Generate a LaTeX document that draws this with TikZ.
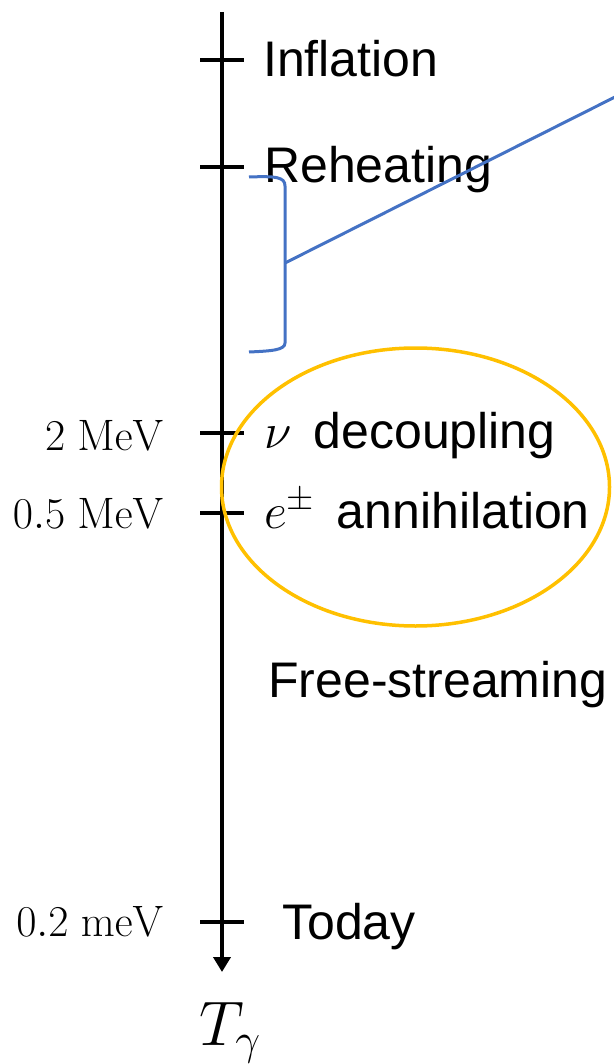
\documentclass[tikz,border=0pt]{standalone}
\usepackage{fix-cm}
\usepackage[no-math]{fontspec}
\setmainfont{Liberation Sans}
\usetikzlibrary{arrows.meta, positioning}
\definecolor{bracketblue}{RGB}{68,114,196}
\definecolor{ringyellow}{RGB}{255,192,0}

\begin{document}
\begin{tikzpicture}[
    x=1pt, y=-1pt,
    axis/.style={line width=4.8pt, -{Triangle[length=15pt, width=17pt]}},
    tickmark/.style={line width=4.8pt},
    epoch/.style={anchor=base west, inner sep=0pt, font=\fontsize{50}{60}\selectfont},
    temp/.style={anchor=base east, inner sep=0pt, font=\fontsize{44}{52}\selectfont},
    bracket/.style={draw=bracketblue, line width=3pt},
    ring/.style={draw=ringyellow, line width=3.5pt}
]
\useasboundingbox (0,0) rectangle (613,1064);

% time axis
\coordinate (top) at (222,12);
\coordinate (bottom) at (222,972);
\draw[axis] (top) -- (bottom);

% ticks
\coordinate (t1) at (222,60);
\coordinate (t2) at (222,167);
\coordinate (t3) at (222,433);
\coordinate (t4) at (222,513);
\coordinate (t5) at (222,922);
\foreach \t in {t1,t2,t3,t4,t5}
    \draw[tickmark] ([xshift=-22pt]\t) -- ([xshift=22pt]\t);

% epochs
\node[epoch] (inflation) at (263,77) {Inflation};
\node[epoch] (reheating) at (264,183) {Reheating};
\node[epoch] (decoupling) at (264,448) {$\nu$ \,decoupling};
\node[epoch] (annihilation) at (264,528) {$e^{\pm}$\, annihilation};
\node[epoch] (streaming) at (268,697) {Free-streaming};
\node[epoch] (today) at (282,939) {Today};

% temperatures
\node[temp] (twomev) at (164,450) {$2\ \mathrm{MeV}$};
\node[temp] (halfmev) at (164,528) {$0.5\ \mathrm{MeV}$};
\node[temp] (nowmev) at (164,936) {$0.2\ \mathrm{meV}$};

\node[anchor=base, inner sep=0pt, font=\fontsize{63}{70}\selectfont] (tgamma) at (230,1045) {$T_\gamma$};

% reheating bracket
\coordinate (bmid) at (285,263);
\coordinate (bout) at (615,97);
\draw[bracket] (249,177) .. controls (276,176) and (285,177) .. (285,186)
    -- (285,343) .. controls (285,350) and (272,351) .. (249,352);
\draw[bracket] (bmid) -- (bout);

% decoupling ring
\draw[ring] (415.5,487) ellipse [x radius=194, y radius=139];

\end{tikzpicture}
\end{document}
